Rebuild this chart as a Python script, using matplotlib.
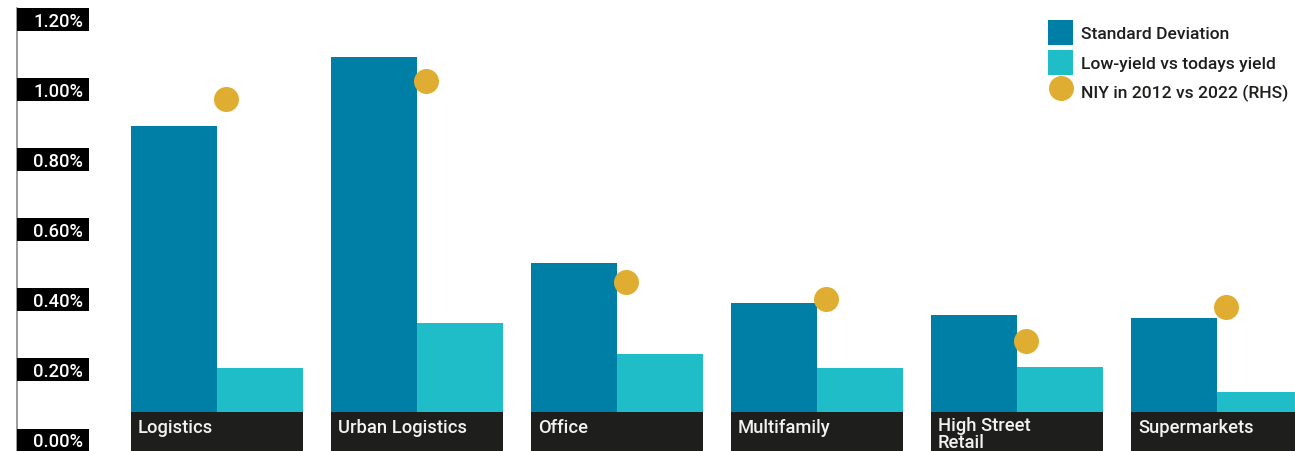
import matplotlib
matplotlib.use("Agg")
import matplotlib.pyplot as plt
import matplotlib.transforms as mtransforms
from matplotlib.patches import Rectangle
import numpy as np

# ---- data ----
categories = ["Logistics", "Urban Logistics", "Office", "Multifamily",
              "High Street\nRetail", "Supermarkets"]
std_dev = [0.896, 1.093, 0.505, 0.391, 0.357, 0.348]          # %
low_vs_today = [0.205, 0.334, 0.245, 0.205, 0.208, 0.137]     # %
niy_2012_vs_2022 = [0.973, 1.025, 0.451, 0.402, 0.283, 0.380]  # RHS
yticks = [0.0, 0.2, 0.4, 0.6, 0.8, 1.0, 1.2]
ytick_labels = ["0.00%", "0.20%", "0.40%", "0.60%", "0.80%", "1.00%", "1.20%"]
series_names = ["Standard Deviation", "Low-yield vs todays yield",
                "NIY in 2012 vs 2022 (RHS)"]

# ---- style ----
C_SD = "#007fa6"
C_LOW = "#1ebdc7"
C_NIY = "#dfad31"
C_BOX = "#1e1e1c"
FONT = ["Roboto", "DejaVu Sans"]
WEIGHT = "medium"

W, H, DPI = 1295, 452, 100
fig = plt.figure(figsize=(W / DPI, H / DPI), dpi=DPI)
fig.patch.set_facecolor("white")

ax_left_px, ax_top_px = 17, 9
ax = fig.add_axes([ax_left_px / W, 0, (W - ax_left_px) / W, (H - ax_top_px) / H])

px_per_unit_y = 350.4          # pixels per 1 percentage point
zero_px = 441                  # pixel row of the 0.00% line
y_lo = (zero_px - H) / px_per_unit_y
y_hi = (zero_px - ax_top_px) / px_per_unit_y
ax.set_ylim(y_lo, y_hi)

x = np.arange(len(categories))
bw = 0.43
ax.set_xlim(-1.0, -1.0 + (W - ax_left_px) / 200.0)

ax.bar(x - bw, std_dev, width=bw, align="edge", color=C_SD, zorder=2,
       label=series_names[0])
ax.bar(x, low_vs_today, width=bw, align="edge", color=C_LOW, zorder=2,
       label=series_names[1])

# dark category plates at the foot of each group
plate_top = (zero_px - 413) / px_per_unit_y
ax.bar(x, plate_top - (y_lo - 0.05), bottom=y_lo - 0.05, width=2 * bw,
       color=C_BOX, zorder=3)
line_px = 15
for xi, name in zip(x, categories):
    n_extra = name.count("\n")
    base_y = (zero_px - 433 - n_extra * line_px) / px_per_unit_y
    ax.text(xi - bw + 0.035, base_y, name, color="#f2f2f2", fontsize=13.2,
            family=FONT, fontweight=WEIGHT, ha="left", va="baseline",
            linespacing=0.9, zorder=4)

# axis styling
for side in ["top", "right", "bottom"]:
    ax.spines[side].set_visible(False)
ax.spines["left"].set_color("#8a8a8a")
ax.spines["left"].set_linewidth(1.2)
ax.set_yticks(yticks)
ax.set_xticks([])
ax.tick_params(axis="y", length=0, labelleft=False)

# y tick labels on black plates
blend = mtransforms.blended_transform_factory(fig.transFigure, ax.transData)
box_h = 23 / px_per_unit_y
for v, lab in zip(yticks, ytick_labels):
    ax.add_patch(Rectangle((17 / W, v - box_h / 2), 72 / W, box_h,
                           transform=blend, facecolor="black",
                           edgecolor="none", clip_on=False, zorder=5))
    ax.text(83 / W, v - 6.3 / px_per_unit_y, lab, transform=blend,
            color="white", fontsize=13.2, family=FONT, fontweight=WEIGHT,
            ha="right", va="baseline", clip_on=False, zorder=6)

# right-hand series (hidden axis, same scale)
ax2 = ax.twinx()
ax2.set_ylim(y_lo, y_hi)
ax2.axis("off")
dots = ax2.scatter(x + 0.045, niy_2012_vs_2022, s=324, color=C_NIY,
                   linewidths=0, zorder=5, label=series_names[2])

leg_fs = 12.6
leg_fs_px = leg_fs * DPI / 72
hl = 25 / leg_fs_px
hh = (hl - 0.245) / 0.65
handles = [ax.containers[0], ax.containers[1], dots]
leg = ax2.legend(handles, series_names, loc="upper left",
                 bbox_to_anchor=(1048 / W, 1 - 21 / H),
                 bbox_transform=fig.transFigure, frameon=False,
                 borderpad=0, borderaxespad=0, handlelength=hl,
                 handleheight=hh, handletextpad=8 / leg_fs_px,
                 labelspacing=4.5 / leg_fs_px,
                 prop={"family": FONT, "size": leg_fs, "weight": WEIGHT})
for t in leg.get_texts():
    t.set_color("#1e1e1c")

fig.savefig("out.png", dpi=DPI)
